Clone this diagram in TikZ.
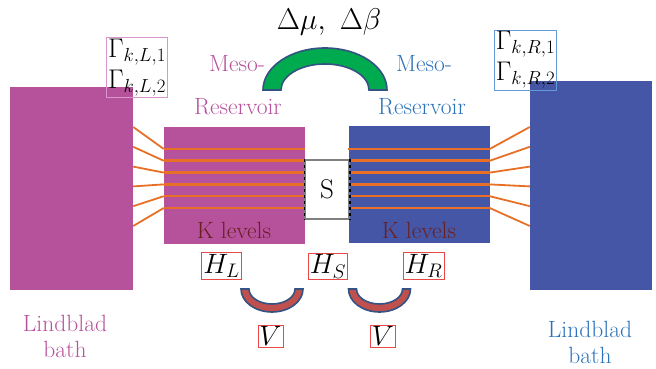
\documentclass[tikz,border=0pt]{standalone}
\usepackage{fix-cm}
\usepackage{fontspec}
\usetikzlibrary{calc,positioning}
\usepackage{xcolor}
\definecolor{bmag}{RGB}{182,82,156}
\definecolor{bblue}{RGB}{68,86,165}
\definecolor{tblue}{RGB}{45,115,185}
\definecolor{lvorange}{RGB}{232,112,38}
\definecolor{kred}{RGB}{105,32,35}
\definecolor{arcgreen}{RGB}{0,170,78}
\definecolor{arcedge}{RGB}{52,82,130}
\definecolor{vred}{RGB}{192,80,77}
\definecolor{hred}{RGB}{232,72,72}
\definecolor{gpink}{RGB}{220,150,205}
\definecolor{gblue}{RGB}{100,155,215}
\tikzset{
    bath/.style={
        fill=#1,draw=none,minimum width=123pt,minimum height=205pt
    },
    meso/.style={
        fill=#1,draw=none,minimum width=141pt,minimum height=117pt
    },
    level/.style={draw=lvorange,line width=2.6pt},
    fan/.style={draw=lvorange,line width=1.8pt},
    lbl/.style={
        font=\rmfamily\fontsize{23.5}{26}\selectfont,text=#1,align=center,inner sep=0pt
    },
    hbox/.style={
        draw=hred,line width=0.8pt,font=\fontsize{28}{30}\selectfont,inner sep=1.5pt
    },
    gbox/.style={
        draw=#1,line width=0.8pt,align=center,
        font=\fontsize{27}{31}\selectfont,inner sep=1.5pt
    },
    band/.style={fill=#1,draw=arcedge,line width=1.6pt}
}

\begin{document}
\begin{tikzpicture}[x=1pt,y=1pt]
\useasboundingbox (0,0) rectangle (656,369);

\node[bath=bmag,minimum height=203pt] (bathL) at (71.5,180.5) {};
\node[bath=bblue,minimum width=122pt,minimum height=209pt] (bathR) at (591,183.5) {};
\node[meso=bmag] (mesoL) at (234.5,183.5) {};
\node[meso=bblue] (mesoR) at (419,184.5) {};

\foreach \i in {0,...,5}{
    \pgfmathsetmacro{\ly}{220-11.8*\i}
    \pgfmathsetmacro{\by}{242-19.8*\i}
    \draw[level] (mesoL.west |- 0,\ly) -- (mesoL.east |- 0,\ly);
    \draw[level] (mesoR.west |- 0,\ly) -- (mesoR.east |- 0,\ly);
    \draw[fan] (bathL.east |- 0,\by) -- (mesoL.west |- 0,\ly);
    \draw[fan] (bathR.west |- 0,\by) -- (mesoR.east |- 0,\ly);
}

\node[
draw=gray,fill=white,line width=1.4pt,
minimum width=44pt,minimum height=59pt,
font=\rmfamily\fontsize{27}{29}\selectfont
]
(sys) at (327,179.5) {S};
\draw[dashed,line width=1.6pt] (sys.north west) -- (sys.south west)
    (sys.north east) -- (sys.south east);

\node[lbl=kred] (kL) at (234,139) {K levels};
\node[lbl=kred] (kR) at (419,139) {K levels};

\node[gbox=gpink] (gamL) at (137,301.5) {$\Gamma_{k,L,1}$\\$\Gamma_{k,L,2}$};
\node[gbox=gblue] (gamR) at (525.5,309) {$\Gamma_{k,R,1}$\\$\Gamma_{k,R,2}$};

\node[font=\fontsize{30}{32}\selectfont] (delta) at (329,347) {$\Delta\mu,\ \Delta\beta$};

\coordinate (gc) at (325,279);
\draw[band=arcgreen] ($(gc)+(-62,0)$)
    arc[start angle=180,end angle=0,x radius=62,y radius=42] -- ++(-18,0)
    arc[start angle=0,end angle=180,x radius=44,y radius=26] -- cycle;

\node[lbl=bmag] (mesoLa) at (237,305) {Meso-};
\node[lbl=bmag] (mesoLb) at (238,262) {Reservoir};
\node[lbl=tblue] (mesoRa) at (424,305) {Meso-};
\node[lbl=tblue] (mesoRb) at (422,262) {Reservoir};

\node[hbox] (hL) at (221.5,103) {$H_L$};
\node[hbox] (hS) at (328,102.5) {$H_S$};
\node[hbox] (hR) at (423.5,103) {$H_R$};

\coordinate (vcL) at (272,80);
\coordinate (vcR) at (379.5,80);
\foreach \c in {vcL,vcR}{
    \draw[band=vred] ($(\c)+(-31,0)$)
        arc[start angle=180,end angle=360,x radius=31,y radius=23] -- ++(-8,0)
        arc[start angle=360,end angle=180,x radius=23,y radius=15] -- cycle;
}

\node[hbox] (vL) at (270.5,33) {$V$};
\node[hbox] (vR) at (383,33) {$V$};

\node[lbl=bmag] (lindL) at (65,33) {Lindblad\\bath};
\node[lbl=tblue] (lindR) at (590,27) {Lindblad\\bath};

\end{tikzpicture}
\end{document}
